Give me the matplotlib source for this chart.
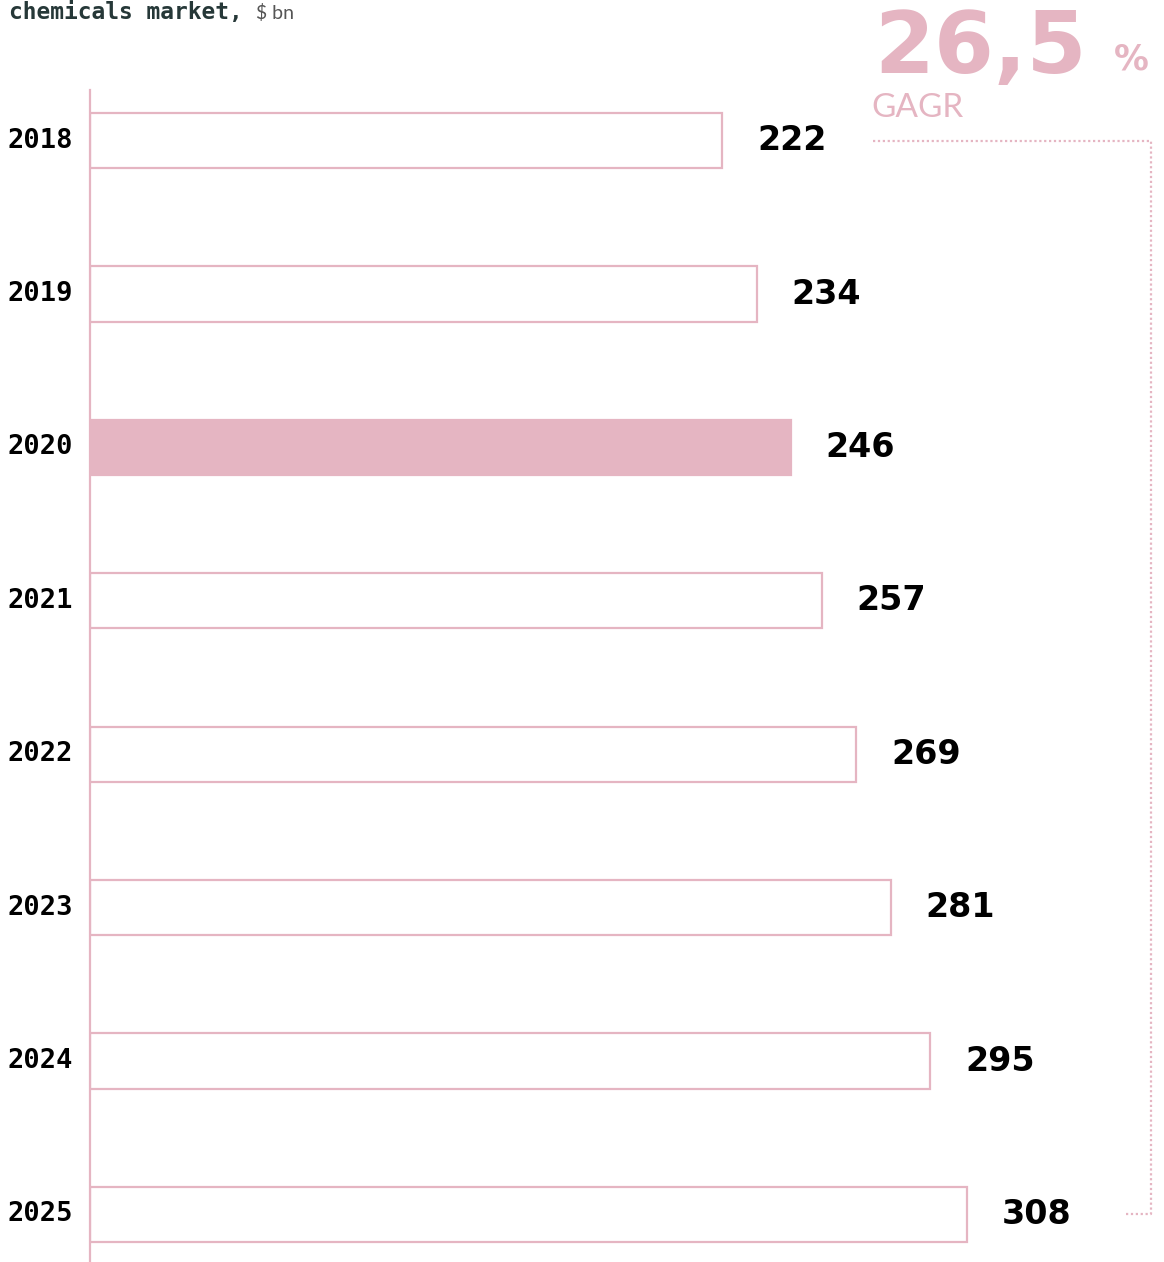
import matplotlib.pyplot as plt

years = ["2018", "2019", "2020", "2021", "2022", "2023", "2024", "2025"]
values = [222, 234, 246, 257, 269, 281, 295, 308]
highlight = "2020"
cagr_text = "26,5"

pink = "#e5b5c2"
dark = "#263838"

fig = plt.figure(figsize=(11.64, 12.62), dpi=100)
ax = fig.add_axes([90 / 1164, 0, 1074 / 1164, 1172 / 1262])

pos = list(range(len(years)))
for i, (yr, v) in enumerate(zip(years, values)):
    filled = yr == highlight
    ax.barh(i, v, height=0.36, color=pink if filled else "white",
            edgecolor=pink, linewidth=1.6)
    ax.annotate(str(v), (v, i), xytext=(25, 0), textcoords="offset points",
                va="center", ha="left", fontsize=24, fontweight="heavy",
                family="DejaVu Sans", color="black")

ax.set_xlim(0, 377)
ax.set_ylim(len(years) - 1 + 0.31, -0.33)
ax.set_yticks(pos)
ax.set_yticklabels(years, family="DejaVu Sans Mono", fontweight="bold", fontsize=19.5)
for lbl in ax.get_yticklabels():
    lbl.set_verticalalignment("center")
ax.tick_params(axis="y", length=0, pad=12)
ax.set_xticks([])
for s in ["top", "right", "bottom"]:
    ax.spines[s].set_visible(False)
ax.spines["left"].set_color(pink)
ax.spines["left"].set_linewidth(1.6)

# bracket for CAGR
bx0, bx1 = 275, 372.5
ax.plot([bx0, bx1, bx1, bx1 - 9.5], [0, 0, len(years) - 1, len(years) - 1],
        color=pink, linestyle=(0, (1, 1.2)), linewidth=1.6, clip_on=False)

fig.text(874 / 1164, 1 - 73 / 1262, cagr_text, fontsize=62, fontweight="heavy",
         family="DejaVu Sans", color=pink, va="baseline")
fig.text(1114 / 1164, 1 - 70 / 1262, "%", fontsize=25, fontweight="heavy",
         family="DejaVu Sans", color=pink, va="baseline")
fig.text(871 / 1164, 1 - 117 / 1262, "GAGR", fontsize=24, fontweight="normal",
         family="Lato", color=pink, va="baseline")

fig.text(9 / 1164, 1 - 19 / 1262, "chemicals market,", fontsize=16.5, fontweight="bold",
         family="DejaVu Sans Mono", color=dark, va="baseline")
fig.text(256 / 1164, 1 - 19 / 1262, "$ bn", fontsize=14, fontweight="normal",
         family="Lato", color="#555555", va="baseline")

fig.savefig("out.png", dpi=100, facecolor="white")
